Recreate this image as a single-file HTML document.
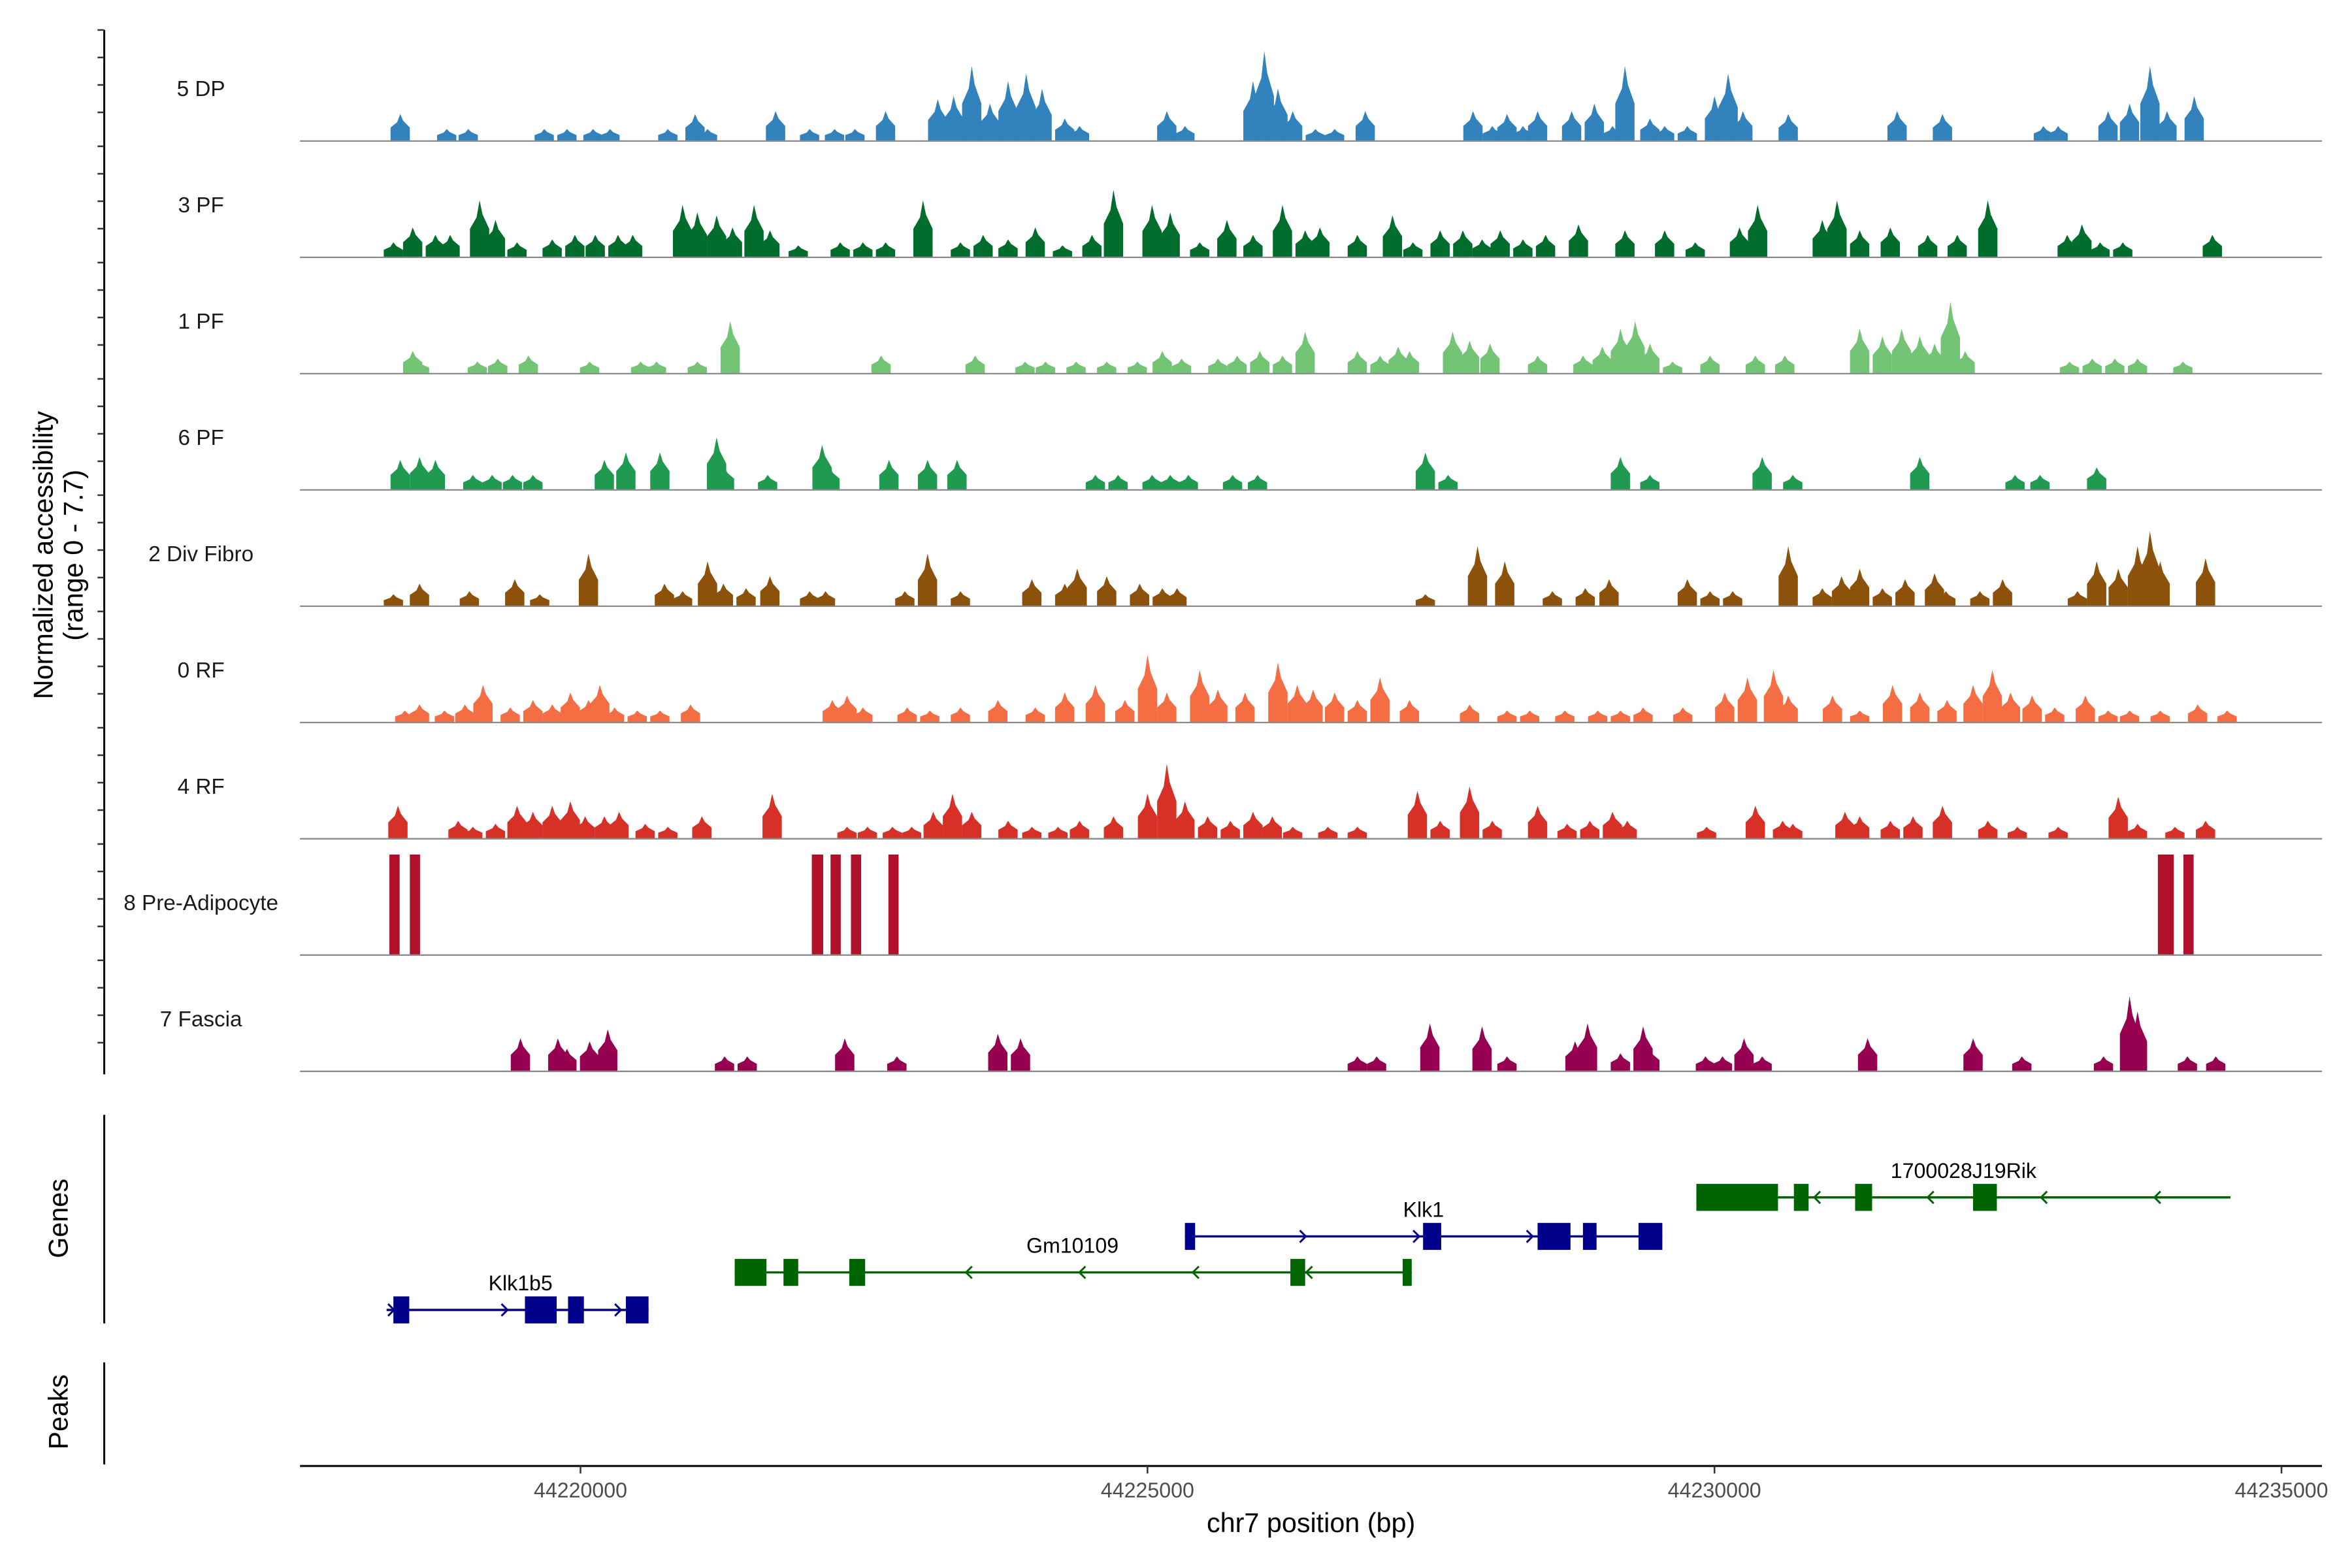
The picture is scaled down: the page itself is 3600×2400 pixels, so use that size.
<!DOCTYPE html>
<html><head><meta charset="utf-8"><style>
html,body{margin:0;padding:0;background:#fff;}
svg{display:block;}
text{font-family:"Liberation Sans",sans-serif;}
</style></head>
<body>
<svg id="chart" width="3600" height="2400" viewBox="0 0 1568 1045" preserveAspectRatio="none" xmlns="http://www.w3.org/2000/svg">
<rect width="1568" height="1045" fill="#fff"/>
<g id="tracks"></g>
<g id="genes"></g>
<g id="axes"></g>
</svg>
<script>
// positions are kb offsets from chr7:44,220,000 ; heights are normalized accessibility
const trackNames = ["5 DP","3 PF","1 PF","6 PF","2 Div Fibro","0 RF","4 RF","8 Pre-Adipocyte","7 Fascia"];
const trackColors = ["#3182bd","#006d2c","#74c476","#1f9a50","#8c510a","#f46d43","#d73027","#b0102a","#970050"];
const xTicks = [44220000,44225000,44230000,44235000];

const pos0 = [-1.59,-1.18,-0.99,-0.32,-0.12,0.11,0.26,0.77,1.01,1.12,1.72,2.02,2.24,2.42,2.69,3.15,3.29,3.45,3.61,3.77,3.93,4.07,4.27,4.40,5.17,5.33,5.93,6.03,6.15,6.28,6.48,6.65,6.92,7.87,8.04,8.17,8.31,8.44,8.74,8.94,9.10,9.21,9.43,9.56,9.76,10.0,10.12,10.25,10.65,11.61,12.01,12.90,13.03,13.47,13.66,13.84,13.99,14.23];
const val0 = [1.8,0.8,0.8,0.8,0.8,0.8,0.8,0.8,1.8,0.8,2.0,0.8,0.8,0.8,2.0,2.8,3.0,5.0,2.5,4.0,4.5,3.5,1.5,1.0,2.0,1.0,4.0,6.0,3.5,2.0,0.8,0.8,2.0,2.0,1.0,1.8,1.0,2.0,2.0,2.5,1.0,5.0,1.5,1.0,1.0,3.0,4.5,2.0,1.8,2.0,1.8,1.0,1.0,2.0,2.5,5.0,2.0,3.0];

const pos1 = [-1.65,-1.48,-1.28,-1.15,-0.89,-0.75,-0.56,-0.25,-0.05,0.13,0.33,0.46,0.90,1.03,1.20,1.34,1.53,1.67,1.92,2.29,2.49,2.69,3.02,3.35,3.55,3.77,4.01,4.25,4.51,4.70,5.04,5.20,5.46,5.70,5.93,6.19,6.39,6.52,6.85,7.16,7.34,7.58,7.78,7.95,8.11,8.31,8.51,8.80,9.21,9.56,9.83,10.22,10.38,10.95,11.08,11.28,11.55,11.88,12.14,12.41,13.11,13.24,13.40,13.60,14.39];
const val1 = [1.0,2.0,1.5,1.5,3.8,2.5,1.0,1.2,1.5,1.5,1.5,1.5,3.5,3.0,2.8,2.0,3.5,1.8,0.8,1.0,1.0,1.0,3.8,1.0,1.5,1.2,2.0,0.8,1.5,4.5,3.5,3.0,1.0,2.5,1.5,3.5,1.8,2.0,1.5,2.8,1.0,1.8,1.8,1.2,1.8,1.2,1.5,2.2,1.8,1.8,1.0,2.0,3.5,2.5,3.8,1.8,2.0,1.5,1.5,3.8,1.5,2.2,1.0,1.0,1.5];

const pos2 = [-1.48,-1.42,-0.91,-0.73,-0.46,0.08,0.53,0.67,1.03,1.32,2.65,3.48,3.92,4.10,4.37,4.64,4.91,5.13,5.30,5.62,5.79,5.99,6.19,6.39,6.85,7.05,7.21,7.31,7.69,7.84,8.02,8.44,8.84,9.01,9.17,9.30,9.43,9.63,9.96,10.36,10.62,11.28,11.48,11.65,11.81,11.94,12.08,12.21,13.13,13.33,13.53,13.73,14.13];
const val2 = [1.5,0.8,0.8,1.0,1.2,0.8,0.8,0.8,0.8,3.5,1.2,1.2,0.8,0.8,0.8,0.8,0.8,1.5,1.0,1.0,1.2,1.5,1.2,2.8,1.5,1.2,1.8,1.5,2.8,2.2,2.0,1.2,1.2,1.8,3.0,3.5,2.0,0.8,1.2,1.2,1.2,3.0,2.5,3.0,2.5,2.0,4.8,1.5,0.8,1.0,1.0,1.0,0.8];

const pos3 = [-1.59,-1.42,-1.28,-0.95,-0.78,-0.60,-0.42,0.21,0.40,0.70,1.20,1.27,1.65,2.13,2.20,2.72,3.06,3.32,4.54,4.74,5.04,5.20,5.36,5.75,5.97,7.45,7.65,9.17,9.43,10.42,10.69,11.81,12.65,12.87,13.37];
const val3 = [2.0,2.2,2.0,1.0,1.0,1.0,1.0,2.0,2.5,2.5,3.5,1.5,1.0,3.0,1.5,2.0,2.0,2.0,1.0,1.0,1.0,1.0,1.0,1.0,1.0,2.5,1.0,2.2,1.0,2.2,1.0,2.2,1.0,1.0,1.5];

const pos4 = [-1.65,-1.42,-0.98,-0.58,-0.36,0.07,0.74,0.90,1.12,1.26,1.46,1.67,2.02,2.16,2.86,3.06,3.35,3.98,4.27,4.38,4.64,4.93,5.13,5.26,7.45,7.91,8.15,8.57,8.86,9.07,9.76,9.96,10.16,10.65,10.95,11.12,11.28,11.48,11.68,11.94,12.04,12.34,12.54,13.20,13.37,13.56,13.73,13.84,13.93,14.33];
const val4 = [0.8,1.5,1.0,1.8,0.8,3.5,1.5,1.0,3.0,1.5,1.2,2.0,1.0,1.0,1.0,3.5,1.0,1.8,1.5,2.5,2.0,1.5,1.2,1.2,0.8,4.0,3.0,1.0,1.2,1.8,1.8,1.0,1.0,4.0,1.2,2.0,2.5,1.2,1.8,2.2,1.0,1.0,1.8,1.0,3.0,2.5,4.0,5.0,3.0,3.2];

const pos5 = [-1.55,-1.42,-1.20,-1.02,-0.86,-0.62,-0.42,-0.25,-0.09,0.07,0.17,0.30,0.50,0.70,0.97,2.22,2.35,2.49,2.88,3.08,3.35,3.68,4.01,4.27,4.54,4.80,5.00,5.17,5.46,5.62,5.86,6.15,6.32,6.46,6.65,6.85,7.05,7.31,7.84,8.17,8.37,8.68,8.97,9.17,9.37,9.72,10.09,10.29,10.52,10.65,11.04,11.28,11.57,11.81,12.05,12.28,12.45,12.61,12.80,13.00,13.27,13.47,13.66,13.93,14.26,14.52];
const val5 = [0.8,1.2,0.8,1.2,2.5,1.0,1.5,1.2,2.0,1.5,2.5,1.0,0.8,0.8,1.2,1.5,1.8,1.0,1.0,0.8,1.0,1.5,1.0,2.0,2.5,1.5,4.5,2.0,3.5,2.2,2.0,4.0,2.5,2.2,2.0,1.5,3.0,1.5,1.2,0.8,0.8,0.8,0.8,0.8,1.0,1.0,2.0,3.0,3.5,1.8,1.8,0.8,2.5,2.0,1.5,2.5,3.5,2.0,1.8,1.0,1.8,0.8,0.8,0.8,1.2,0.8];

const pos6 = [-1.61,-1.08,-0.95,-0.75,-0.56,-0.42,-0.25,-0.09,0.04,0.21,0.34,0.57,0.77,1.07,1.69,2.35,2.53,2.75,2.92,3.11,3.28,3.45,3.77,3.98,4.21,4.40,4.70,5.00,5.17,5.33,5.53,5.73,5.93,6.10,6.28,6.59,6.85,7.38,7.58,7.84,8.04,8.44,8.70,8.90,9.10,9.23,9.93,10.36,10.60,10.69,11.15,11.28,11.55,11.75,12.01,12.41,12.67,13.03,13.56,13.73,14.06,14.33];
const val6 = [2.2,1.2,0.8,1.0,2.2,1.8,2.2,2.5,1.5,1.5,1.8,1.0,0.8,1.5,3.0,0.8,0.8,0.8,0.8,1.8,3.0,1.8,1.2,0.8,0.8,1.2,1.5,3.0,5.0,2.5,1.5,1.2,1.8,1.5,0.8,0.8,0.8,3.2,1.2,3.5,1.2,2.2,1.0,1.2,1.8,1.2,0.8,2.2,1.2,1.0,1.8,1.5,1.2,1.5,2.2,1.2,0.8,0.8,2.8,1.0,0.8,1.2];

const pos7 = [-1.64,-1.46,2.09,2.25,2.43,2.76,13.98,14.18];
const wid7 = [0.09,0.09,0.10,0.09,0.09,0.09,0.14,0.09];
const val7 = [6.7,6.7,6.7,6.7,6.7,6.7,6.7,6.7];

const pos8 = [-0.53,-0.20,-0.12,0.08,0.24,1.27,1.47,2.33,2.79,3.68,3.88,6.85,7.02,7.49,7.95,8.17,8.77,8.88,9.17,9.37,9.43,9.92,10.07,10.26,10.42,11.35,12.28,12.71,13.43,13.66,13.73,14.17,14.42];
const val8 = [2.2,2.2,1.5,2.0,2.8,1.0,1.0,2.2,1.0,2.5,2.2,1.0,1.0,3.2,3.0,1.0,2.0,3.2,1.2,3.0,1.5,1.0,1.0,2.2,1.0,2.2,2.2,1.0,1.0,5.0,4.0,1.0,1.0];

const trackPos = [pos0,pos1,pos2,pos3,pos4,pos5,pos6,pos7,pos8];
const trackVal = [val0,val1,val2,val3,val4,val5,val6,val7,val8];

// genes: [name, strand, row, start, end, exons...]
const geneNames = ["Klk1b5","Gm10109","Klk1","1700028J19Rik"];
const geneStrand = ["+","-","+","-"];
const geneStart = [-1.71,1.36,5.33,9.84];
const geneEnd = [0.60,7.33,9.54,14.55];
const geneExons = [
  [[-1.65,-1.51],[-0.49,-0.21],[-0.11,0.03],[0.40,0.60]],
  [[1.36,1.64],[1.79,1.92],[2.37,2.51],[6.26,6.39],[7.25,7.33]],
  [[5.33,5.42],[7.43,7.59],[8.44,8.73],[8.84,8.96],[9.33,9.54]],
  [[9.84,10.56],[10.70,10.83],[11.24,11.39],[12.28,12.49]]
];
const geneColors = ["#00008b","#006400","#00008b","#006400"];
const geneRowY = [873,848,824,798];

const NS="http://www.w3.org/2000/svg";
function X(kb){ return 387 + kb*75.6; }
function bpX(bp){ return X((bp-44220000)/1000); }
const trackTop0 = 16.5, trackH = 77.5, pxPerUnit = 10;
function baseY(i){ return trackTop0 + trackH*(i+1); }
function Y(i,v){ return baseY(i) - v*pxPerUnit; }
function mk(tag, attrs, parent){ const e=document.createElementNS(NS,tag); for(const k in attrs) e.setAttribute(k,attrs[k]); parent.appendChild(e); return e; }

const gT = document.getElementById('tracks');
for(let i=0;i<trackNames.length;i++){
  const g = mk('g',{},gT);
  
  
  const ps = trackPos[i], vs = trackVal[i];
  for(let j=0;j<ps.length;j++){
    let el;
    if(i===7){
      const w = wid7[j];
      el = mk('rect',{x:X(ps[j]-w/2), y:Y(i,vs[j]), width:w*75.6, height:vs[j]*pxPerUnit, fill:trackColors[i]},g);
    } else {
      const w = 0.17, l = X(ps[j]-w/2), r = X(ps[j]+w/2), c = X(ps[j]);
      const b = baseY(i), t = Y(i,vs[j]), m = Y(i,vs[j]*0.5);
      el = mk('polygon',{points:`${l},${b} ${l},${m} ${c-2},${Y(i,vs[j]*0.7)} ${c},${t} ${c+2},${Y(i,vs[j]*0.75)} ${r},${m} ${r},${b}`, fill:trackColors[i]},g);
    }
    
    
  }
  const bl = mk('line',{x1:200,x2:1548,y1:baseY(i),y2:baseY(i),stroke:'#8c8c8c','stroke-width':1},g);
  
  
  const lab = mk('text',{x:134,y:baseY(i)-30,'text-anchor':'middle','font-size':14.5,fill:'#1a1a1a'},g);
  lab.textContent = trackNames[i];
  
  
}

const gG = document.getElementById('genes');
for(let k=0;k<geneNames.length;k++){
  const g = mk('g',{},gG);
  
  
  const y = geneRowY[k], col = geneColors[k];
  mk('line',{x1:X(geneStart[k]),x2:X(geneEnd[k]),y1:y,y2:y,stroke:col,'stroke-width':1.5},g);
  const x0 = X(geneStart[k]), x1 = X(geneEnd[k]);
  for(let ax = x0+4; ax < x1; ax += 75.6){
    const d = geneStrand[k]==='+' ? `M${ax-3},${y-4} L${ax+1},${y} L${ax-3},${y+4}` : `M${ax+3},${y-4} L${ax-1},${y} L${ax+3},${y+4}`;
    const p = mk('path',{d:d,stroke:col,fill:'none','stroke-width':1.3},g);
    
    
  }
  geneExons[k].forEach(ex=>{
    const r = mk('rect',{x:X(ex[0]),y:y-9,width:X(ex[1])-X(ex[0]),height:18,fill:col},g);
    
    
  });
  const t = mk('text',{x:(k===3?1309:(k===2?949:(k===1?715:347))),y:y-13,'text-anchor':'middle','font-size':14,fill:'#000'},g);
  t.textContent = geneNames[k];
  
  
}

const gA = document.getElementById('axes');
// left y axis with ticks
const ya = mk('line',{x1:69.5,x2:69.5,y1:20,y2:716,stroke:'#000','stroke-width':1.3},gA);


for(let i=0;i<9;i++){
  for(let k=0;k<4;k++){
    const ty = trackTop0+3.5 + trackH*i + k*18.3;
    const tk = mk('line',{x1:65,x2:69.5,y1:ty,y2:ty,stroke:'#333','stroke-width':1.1},gA);
    
    
  }
}
const yt = mk('text',{'text-anchor':'middle','font-size':18,fill:'#000',transform:'translate(35,370) rotate(-90)'},gA);


const ts1 = mk('tspan',{x:0,y:0},yt); ts1.textContent='Normalized accessibility';
const ts2 = mk('tspan',{x:0,y:20},yt); ts2.textContent='(range 0 - 7.7)';

const gl = mk('line',{x1:69.5,x2:69.5,y1:743,y2:882,stroke:'#000','stroke-width':1.3},gA);


const gtt = mk('text',{'text-anchor':'middle','font-size':18,fill:'#000',transform:'translate(45,812) rotate(-90)'},gA);
gtt.textContent='Genes';


const pl = mk('line',{x1:69.5,x2:69.5,y1:908,y2:976,stroke:'#000','stroke-width':1.3},gA);


const pt = mk('text',{'text-anchor':'middle','font-size':18,fill:'#000',transform:'translate(45,941) rotate(-90)'},gA);
pt.textContent='Peaks';



const xa = mk('line',{x1:200,x2:1548,y1:977,y2:977,stroke:'#000','stroke-width':1.3},gA);


xTicks.forEach(v=>{
  const x = bpX(v);
  const tk = mk('line',{x1:x,x2:x,y1:977,y2:982,stroke:'#333','stroke-width':1.1},gA);
  
  
  const t = mk('text',{x:x,y:998,'text-anchor':'middle','font-size':14,fill:'#4d4d4d'},gA);
  t.textContent = String(v);
  
  
});
const xt = mk('text',{x:874,y:1021,'text-anchor':'middle','font-size':18,fill:'#000'},gA);
xt.textContent='chr7 position (bp)';


</script>
</body></html>
